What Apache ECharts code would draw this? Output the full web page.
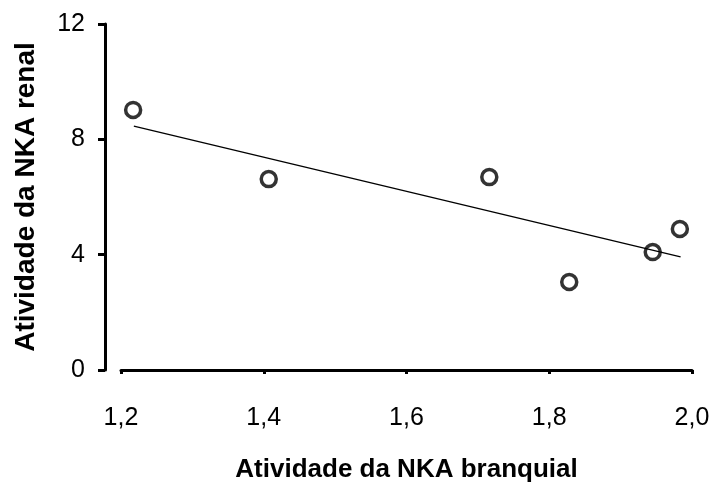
<!DOCTYPE html>
<html>
<head>
<meta charset="utf-8">
<script src="https://cdn.jsdelivr.net/npm/echarts@6/dist/echarts.min.js"></script>
<style>
    html, body { margin: 0; padding: 0; background: #fff; }
    #chart { width: 713px; height: 482px; }
</style>
</head>
<body>
<div id="chart"></div>
<script>
// pontos medidos (NKA branquial x NKA renal)
var branquial = [1.217, 1.407, 1.716, 1.828, 1.945, 1.983];
var renal = [9.02, 6.62, 6.69, 3.05, 4.09, 4.89];
// extremos da reta de tendência
var trendX = [1.218, 1.984];
var trendY = [8.46, 3.92];

var points = branquial.map(function (x, i) { return [x, renal[i]]; });
var trend = trendX.map(function (x, i) { return [x, trendY[i]]; });

var myChart = echarts.init(document.getElementById('chart'));
var font = 'Liberation Sans, Arial, sans-serif';
var option = {
    animation: false,
    backgroundColor: '#fff',
    grid: { left: 121, right: 21, top: 24, bottom: 112, outerBoundsMode: 'none', containLabel: false },
    xAxis: {
        type: 'value',
        min: 1.2,
        max: 2.0,
        interval: 0.2,
        offset: 10,
        splitLine: { show: false },
        axisLine: { show: true, lineStyle: { color: '#000', width: 3 } },
        axisTick: { show: true, inside: false, length: 4, lineStyle: { color: '#000', width: 3 } },
        axisLabel: {
            margin: 26,
            fontSize: 25,
            fontFamily: font,
            color: '#000',
            formatter: function (v) { return v.toFixed(1).replace('.', ','); }
        },
        name: 'Atividade da NKA branquial',
        nameLocation: 'middle',
        nameGap: 77,
        nameTextStyle: { fontSize: 26, fontWeight: 'bold', fontFamily: font, color: '#000' }
    },
    yAxis: {
        type: 'value',
        min: 0,
        max: 12,
        interval: 4,
        offset: 16,
        splitLine: { show: false },
        axisLine: { show: true, lineStyle: { color: '#000', width: 3 } },
        axisTick: { show: true, inside: false, length: 7, lineStyle: { color: '#000', width: 3 } },
        axisLabel: { margin: 20, fontSize: 25, fontFamily: font, color: '#000' },
        name: 'Atividade da NKA renal',
        nameLocation: 'middle',
        nameGap: 65,
        nameTextStyle: { fontSize: 28, fontWeight: 'bold', fontFamily: font, color: '#000' }
    },
    series: [
        {
            type: 'line',
            data: trend,
            symbol: 'none',
            lineStyle: { color: '#000', width: 1.3 },
            z: 1
        },
        {
            type: 'scatter',
            data: points,
            symbol: 'circle',
            symbolSize: 15,
            itemStyle: { color: 'rgba(255,255,255,0)', borderColor: '#000', borderWidth: 3.5 },
            z: 2
        }
    ]
};
option && myChart.setOption(option);
</script>
</body>
</html>
